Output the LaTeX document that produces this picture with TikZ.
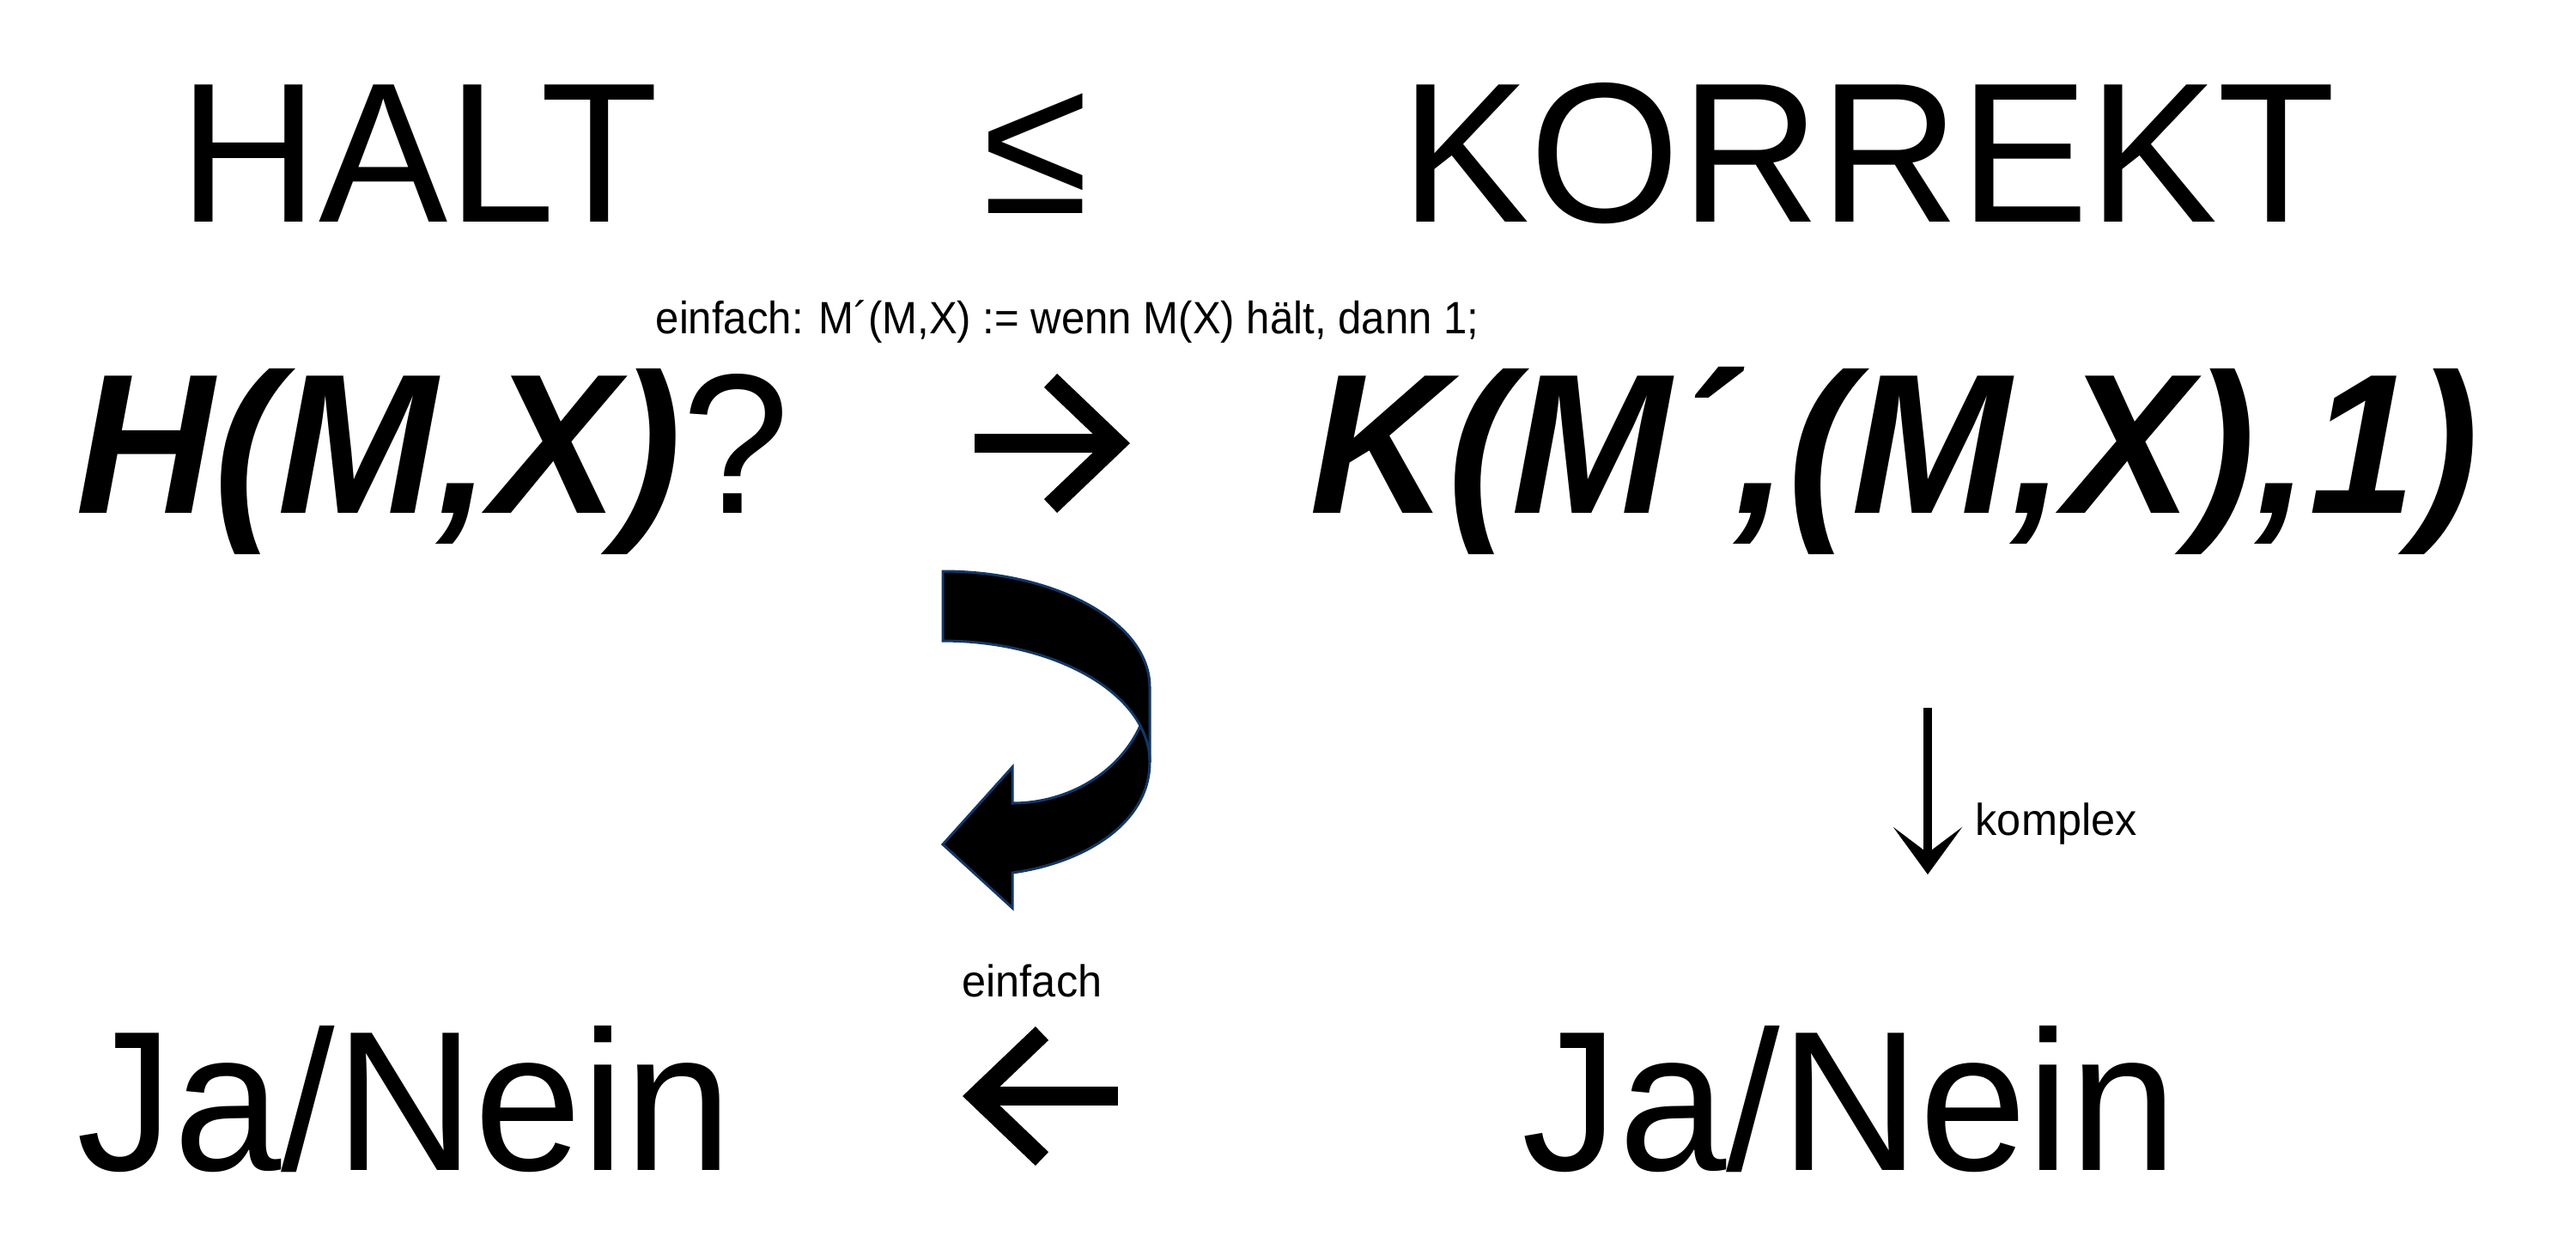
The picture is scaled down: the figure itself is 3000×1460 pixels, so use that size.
\documentclass[tikz,border=0pt]{standalone}
\usepackage{fontspec}
\setmainfont{Liberation Sans}[FakeStretch=0.97]
\newfontfamily\formulafont{Liberation Sans}[FakeStretch=0.96]
\usetikzlibrary{arrows.meta}
\definecolor{arrowrim}{RGB}{20,55,100}

\begin{document}
\begin{tikzpicture}[x=0.01cm, y=-0.01cm]
    \tikzset{
        big/.style={
            inner sep=0pt, anchor=base west,
            font=\fontsize{66pt}{70pt}\selectfont
        },
        formula/.style={
            inner sep=0pt, anchor=base west,
            font=\fontsize{66pt}{70pt}\formulafont\bfseries\itshape
        },
        note/.style={
            inner sep=0pt, anchor=base west,
            font=\fontsize{14.8pt}{17pt}\selectfont
        },
        glypharrow/.style={
            line width=0.22cm,
            -{Straight Barb[sharp, length=0.765cm, width=1.46cm]}
        },
        thinarrow/.style={
            line width=0.1cm,
            -{Stealth[length=0.55cm, width=0.8cm, inset=0.3cm]}
        },
        twist/.style={fill=black, draw=arrowrim, line width=0.03cm},
        twistrim/.style={draw=arrowrim, line width=0.03cm},
    }
    \useasboundingbox (0,0) rectangle (3000,1460);

    % ==== Reduction ====
    \node[big] (halt) at (208,258) {HALT};
    \node[big] (leq) at (1144,248) {≤};
    \node[big] (korrekt) at (1631,258) {KORREKT};

    % ==== Questions ====
    \node[note, font=\fontsize{15pt}{18pt}\selectfont] (def) at (763,388)
        {\scalebox{0.96}[1]{einfach: M´(M,X) := wenn M(X) hält, dann 1;}};
    \node[formula] (hmx) at (88,597) {H(M,X)\textnormal{?}};
    \node[formula] (kmx) at (1525,597) {K(M´,(M,X),1)};
    \coordinate (ra) at (1135,516);
    \coordinate (rb) at (1316,516);
    \draw[glypharrow] (ra) -- (rb);

    % ==== Curved arrow back ====
    \coordinate (bend) at (1328,845);
    \filldraw[twist] (1098,665) .. controls (1231,665) and (1339,725) .. (1339,800)
        -- (1339,887) .. controls (1339,960) and (1260,1005) .. (1179,1016)
        -- (1179,1057) -- (1098,983) -- (1179,893) -- (1179,935)
        arc[start angle=90, end angle=22.25, x radius=161, y radius=145]
        arc[start angle=-17.4, end angle=-90, x radius=241, y radius=141]
        -- cycle;
    \draw[twistrim] (bend) arc[start angle=-17.4, end angle=0, x radius=241, y radius=141];

    % ==== Answers ====
    \coordinate (da) at (2245,824);
    \coordinate (db) at (2245,1018);
    \draw[thinarrow] (da) -- (db);
    \node[note] (komplex) at (2300,972) {komplex};
    \node[big] (jn1) at (89,1362) {Ja/Nein};
    \node[big] (jn2) at (1772,1362) {Ja/Nein};
    \coordinate (la) at (1302,1276);
    \coordinate (lb) at (1121,1276);
    \draw[glypharrow] (la) -- (lb);
    \node[note, anchor=base] (einfach) at (1202,1160) {einfach};

\end{tikzpicture}
\end{document}
